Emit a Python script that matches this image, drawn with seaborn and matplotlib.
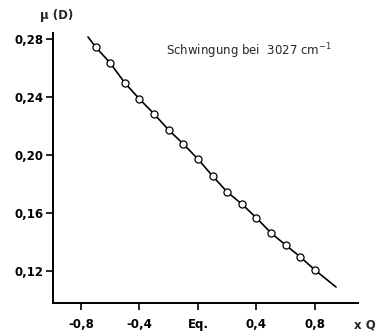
import matplotlib
matplotlib.use("Agg")
import matplotlib.pyplot as plt
import seaborn as sns
import pandas as pd

# data
q_points = [-0.7, -0.6, -0.5, -0.4, -0.3, -0.2, -0.1, 0.0, 0.1, 0.2, 0.3, 0.4, 0.5, 0.6, 0.7, 0.8]
mu_points = [0.2745, 0.2634, 0.2497, 0.2386, 0.2283, 0.2172, 0.2076, 0.1972,
             0.1855, 0.1745, 0.1662, 0.1566, 0.1462, 0.1379, 0.1297, 0.1207]
line_q = [-0.752] + q_points + [0.944]
line_mu = [0.2814] + mu_points + [0.1090]

x_ticks = [-0.8, -0.4, 0.0, 0.4, 0.8]
x_ticklabels = ["-0,8", "-0,4", "Eq.", "0,4", "0,8"]
y_ticks = [0.12, 0.16, 0.20, 0.24, 0.28]
y_ticklabels = ["0,12", "0,16", "0,20", "0,24", "0,28"]

sns.set_style("ticks")
plt.rcParams['font.family'] = ['DejaVu Sans']

fig = plt.figure(figsize=(3.77, 3.33), dpi=100)
ax = fig.add_axes([0.1406, 0.0901, 0.809, 0.8108])

df_line = pd.DataFrame({"q": line_q, "mu": line_mu})
df_pts = pd.DataFrame({"q": q_points, "mu": mu_points})

sns.lineplot(data=df_line, x="q", y="mu", ax=ax, color="black", lw=1.2, sort=False)
sns.scatterplot(data=df_pts, x="q", y="mu", ax=ax, marker="o", s=26,
                facecolor="white", edgecolor="black", linewidth=0.9, zorder=3)

ax.set_xlim(-0.991, 1.094)
ax.set_ylim(0.098, 0.2841)
ax.set_xticks(x_ticks)
ax.set_xticklabels(x_ticklabels, fontsize=8.5, fontweight="bold")
ax.set_yticks(y_ticks)
ax.set_yticklabels(y_ticklabels, fontsize=8.5, fontweight="bold")
ax.tick_params(direction="out", length=5, width=1.2, colors="black")
ax.tick_params(axis="x", pad=6)
ax.tick_params(axis="y", pad=1.5)
ax.set_xlabel("")
ax.set_ylabel("")
for s in ["top", "right"]:
    ax.spines[s].set_visible(False)
for s in ["left", "bottom"]:
    ax.spines[s].set_linewidth(1.4)
    ax.spines[s].set_color("black")

ax.text(-0.219, 0.2715, "Schwingung bei  3027 cm$^{-1}$", fontsize=8.5,
        ha="left", va="center")
fig.text(57 / 377, 1 - 16 / 333, "μ (D)", fontsize=8.5, fontweight="bold",
         ha="center", va="center")
fig.text(365 / 377, 1 - 325 / 333, "x Q", fontsize=8.5, fontweight="bold",
         ha="center", va="center")

fig.savefig("out.png", dpi=100)
